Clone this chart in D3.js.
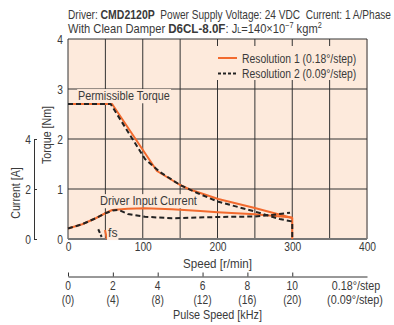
<!DOCTYPE html>
<html><head><meta charset="utf-8">
<script src="https://cdn.jsdelivr.net/npm/d3@7"></script>
<style>
body{margin:0;background:#fff}
text{font-family:"Liberation Sans",Arial,sans-serif;fill:#3a3a3a}
</style>
</head><body><svg id="c" width="394" height="325"></svg>
<script>
// ---- data ----
const speedTicks = [0, 100, 200, 300, 400];
const gridSpeeds = [0, 50, 100, 150, 200, 250, 300, 350, 400];
const torqueTicks = [0, 1, 2, 3, 4];
const currentTicks = [0, 2, 4];
const pulseTicks = [0, 2, 4, 6, 8, 10];
const pulseLabels1 = ["0", "2", "4", "6", "8", "10"];
const pulseLabels2 = ["(0)", "(4)", "(8)", "(12)", "(16)", "(20)"];

// speed [r/min], torque [Nm]
const torqueRes1Speed = [0, 59, 119, 150, 163, 177, 201, 250, 300, 300];
const torqueRes1 = [2.7, 2.7, 1.36, 1.08, 0.99, 0.92, 0.80, 0.62, 0.42, 0];
const torqueRes2Speed = [0, 57, 103, 123, 150, 173, 200, 250, 283, 300, 300];
const torqueRes2 = [2.7, 2.7, 1.6, 1.34, 1.08, 0.92, 0.75, 0.55, 0.40, 0.35, 0];

// speed [r/min], current [A]
const currentRes1Speed = [0, 19, 37, 50, 59, 80, 103, 139, 177, 200, 250, 300];
const currentRes1 = [0.42, 0.59, 0.83, 1.03, 1.16, 1.21, 1.23, 1.19, 1.12, 1.07, 0.99, 0.86];
const currentRes2Speed = [0, 19, 37, 50, 60, 68, 80, 103, 139, 200, 250, 275, 297];
const currentRes2 = [0.42, 0.59, 0.83, 1.03, 1.14, 1.16, 1.0, 0.89, 0.83, 0.88, 0.90, 0.97, 1.05];

// starting frequency markers (speed, current)
const fsRes1Speed = [49.5, 52], fsRes1 = [0.36, 0];
const fsRes2Speed = [40.5, 45], fsRes2 = [0.39, 0.08];

const legendLabels = ["Resolution 1 (0.18°/step)", "Resolution 2 (0.09°/step)"];

// ---- drawing ----
const ORANGE = "#f26a2e", DARK = "#222", BG = "#fdeadc", NARROW = 0.82;
const svg = d3.select("#c");
const x = d3.scaleLinear().domain([0, 400]).range([68, 367]);
const yT = d3.scaleLinear().domain([0, 4]).range([239, 39]);
const yI = d3.scaleLinear().domain([0, 4]).range([239, 139]);
const xP = d3.scaleLinear().domain([0, 400 * 10 / 300]).range([68, 367]);

// compress text horizontally (narrow face look)
function squeeze(sel, s) {
  sel.each(function () {
    const e = d3.select(this);
    const tx = +e.attr("x") || 0, ty = +e.attr("y") || 0;
    const tr = e.attr("transform") || "";
    e.attr("x", 0).attr("y", 0).attr("transform", `${tr} translate(${tx},${ty}) scale(${s},1)`);
  });
  return sel;
}
function fit(sel, target) {
  const w = sel.node().getComputedTextLength();
  return squeeze(sel, target / w);
}
function txt(str, tx, ty, size, anchor) {
  return svg.append("text").attr("x", tx).attr("y", ty).attr("font-size", size)
    .attr("text-anchor", anchor || "start").text(str);
}

svg.append("rect").attr("x", x(0)).attr("y", yT(4)).attr("width", x(400) - x(0)).attr("height", yT(0) - yT(4)).attr("fill", BG);

// grid
svg.append("g").selectAll("line").data(gridSpeeds).join("line")
  .attr("x1", d => x(d)).attr("x2", d => x(d)).attr("y1", yT(4)).attr("y2", yT(0))
  .attr("stroke", d => (d === 400 ? "#8c8480" : "#333")).attr("stroke-width", d => (d === 400 ? 1.8 : 1));
svg.append("g").selectAll("line").data(torqueTicks).join("line")
  .attr("x1", x(0)).attr("x2", x(400)).attr("y1", d => yT(d)).attr("y2", d => yT(d))
  .attr("stroke", d => (d === 0 ? "#777" : "#333")).attr("stroke-width", d => (d === 0 ? 1.8 : 1));

// legend background
svg.append("rect").attr("x", 205).attr("y", 46).attr("width", 161).attr("height", 34).attr("fill", BG);

// labels with background
function label(str, tx, ty, target) {
  const t = txt(str, tx, ty, 13);
  fit(t, target);
  const b = t.node().getBBox();
  svg.insert("rect", () => t.node()).attr("transform", t.attr("transform"))
    .attr("x", b.x - 1).attr("y", b.y + 1).attr("width", b.width + 2).attr("height", b.height - 1).attr("fill", BG);
  return t;
}
label("Permissible Torque", 78, 100, 92);
label("Driver Input Current", 100, 205, 97);

// axes
const torqueAxis = svg.append("g").attr("transform", `translate(${x(0)},0)`)
  .call(d3.axisLeft(yT).tickValues(torqueTicks).tickSize(0).tickPadding(5).tickFormat(d3.format("d")));
const speedAxis = svg.append("g").attr("transform", `translate(0,${yT(0)})`)
  .call(d3.axisBottom(x).tickValues(speedTicks).tickSize(0).tickPadding(3).tickFormat(d3.format("d")));
[torqueAxis, speedAxis].forEach(g => {
  g.select(".domain").remove();
  squeeze(g.selectAll("text").attr("font-size", 12.5).attr("fill", "#3a3a3a").attr("font-family", null), NARROW);
});

const currentAxis = svg.append("g").attr("transform", "translate(34,0)")
  .call(d3.axisLeft(yI).tickValues(currentTicks).tickSize(-3).tickPadding(3).tickFormat(d3.format("d")));
currentAxis.selectAll("line,path").attr("stroke", "#333");
squeeze(currentAxis.selectAll("text").attr("font-size", 12.5).attr("fill", "#3a3a3a").attr("font-family", null), NARROW);

const pulseAxis = svg.append("g").attr("transform", "translate(0,276.5)")
  .call(d3.axisBottom(xP).tickValues(pulseTicks).tickSize(-4).tickSizeOuter(0).tickFormat(""));
pulseAxis.selectAll("line,path").attr("stroke", "#333");
squeeze(svg.append("g").selectAll("text").data(pulseTicks).join("text")
  .attr("x", d => xP(d)).attr("y", 289.5).attr("text-anchor", "middle").attr("font-size", 12.5)
  .text((d, i) => pulseLabels1[i]), NARROW);
squeeze(svg.append("g").selectAll("text").data(pulseTicks).join("text")
  .attr("x", d => xP(d)).attr("y", 304).attr("text-anchor", "middle").attr("font-size", 12.5)
  .text((d, i) => pulseLabels2[i]), NARROW);
fit(txt("0.18°/step", 356, 289.5, 12.5, "middle"), 48.5);
fit(txt("(0.09°/step)", 355, 304, 12.5, "middle"), 56);

fit(txt("Speed [r/min]", 217.5, 267.5, 12.5, "middle"), 69);
fit(txt("Pulse Speed [kHz]", 217.5, 318.5, 12.5, "middle"), 89);
squeeze(svg.append("text").attr("transform", "translate(51,135) rotate(-90)").attr("text-anchor", "middle").attr("font-size", 13).text("Torque [Nm]"), NARROW);
squeeze(svg.append("text").attr("transform", "translate(19.5,193) rotate(-90)").attr("text-anchor", "middle").attr("font-size", 13).text("Current [A]"), NARROW);

// title
const t1 = svg.append("text").attr("x", 68).attr("y", 19).attr("font-size", 13);
t1.append("tspan").text("Driver: ");
t1.append("tspan").attr("font-weight", "bold").attr("font-size", 13.5).text("CMD2120P");
t1.append("tspan").text("\u00a0\u00a0Power Supply Voltage: 24 VDC\u00a0\u00a0Current: 1 A/Phase");
fit(t1, 323.5);
const t2 = svg.append("text").attr("x", 68).attr("y", 33).attr("font-size", 13);
t2.append("tspan").text("With Clean Damper ");
t2.append("tspan").attr("font-weight", "bold").attr("font-size", 13.5).text("D6CL-8.0F");
t2.append("tspan").text(": J");
t2.append("tspan").attr("font-size", 8.5).text("L");
t2.append("tspan").text("=140×10");
t2.append("tspan").attr("font-size", 8.5).attr("dy", -5).text("−7");
t2.append("tspan").attr("dy", 5).text("\u00a0kgm");
t2.append("tspan").attr("font-size", 8.5).attr("dy", -5).text("2");
fit(t2, 254);

// curves
const line = (xs, ys, yScale) => d3.line()(xs.map((s, i) => [x(s), yScale(ys[i])]));
const curves = [
  [torqueRes1Speed, torqueRes1, yT, ORANGE, null],
  [currentRes1Speed, currentRes1, yI, ORANGE, null],
  [fsRes1Speed, fsRes1, yI, ORANGE, null],
  [torqueRes2Speed, torqueRes2, yT, DARK, "5,3"],
  [currentRes2Speed, currentRes2, yI, DARK, "5,3"],
  [fsRes2Speed, fsRes2, yI, DARK, "4,2"]
];
curves.forEach(([xs, ys, sc, col, dash]) => {
  svg.append("path").attr("d", line(xs, ys, sc)).attr("fill", "none").attr("stroke", col)
    .attr("stroke-width", 2).attr("stroke-dasharray", dash).attr("stroke-linejoin", "round");
});

label("fs", 108, 237, 9.5);

// legend
const lg = svg.append("g");
[ORANGE, DARK].forEach((c, i) => {
  lg.append("line").attr("x1", 218).attr("x2", 237).attr("y1", 58 + i * 15.5).attr("y2", 58 + i * 15.5)
    .attr("stroke", c).attr("stroke-width", 2).attr("stroke-dasharray", i ? "3,2" : null);
  fit(lg.append("text").attr("x", 242).attr("y", 62.5 + i * 15.5).attr("font-size", 13).text(legendLabels[i]), 114.5);
});
</script></body></html>
